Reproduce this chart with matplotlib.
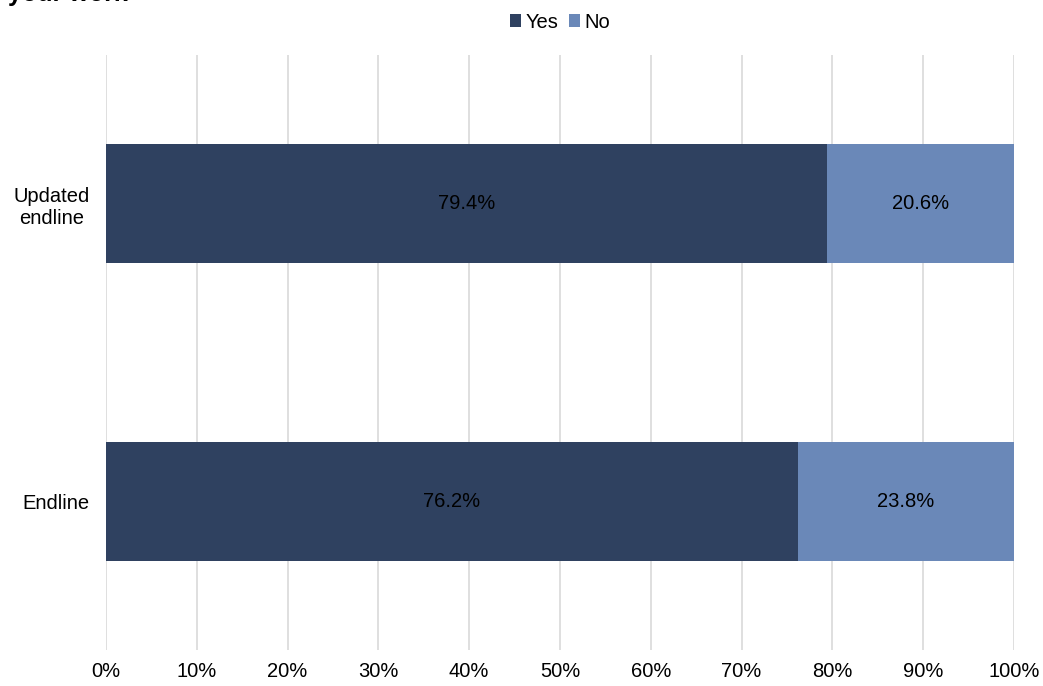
import matplotlib
matplotlib.use('Agg')
import matplotlib.pyplot as plt
from matplotlib.ticker import FuncFormatter

plt.rcParams['font.family'] = ['Liberation Sans', 'DejaVu Sans']

categories = ['Endline', 'Updated\nendline']
yes_values = [76.2, 79.4]
no_values = [23.8, 20.6]
yes_color = '#2F4160'
no_color = '#6A88B8'

fig = plt.figure(figsize=(10.43, 6.86), dpi=100)
ax = fig.add_axes([0.1016, 0.0525, 0.8706, 0.8673])

y = range(len(categories))
ax.barh(y, yes_values, height=0.4, color=yes_color, label='Yes', zorder=2)
ax.barh(y, no_values, left=yes_values, height=0.4, color=no_color, label='No', zorder=2)

for i in y:
    ax.text(yes_values[i] / 2, i, f'{yes_values[i]:.1f}%', ha='center', va='center',
            fontsize=14.5, color='black', zorder=3)
    ax.text(yes_values[i] + no_values[i] / 2, i, f'{no_values[i]:.1f}%', ha='center',
            va='center', fontsize=14.5, color='black', zorder=3)

ax.set_xlim(0, 100)
ax.set_ylim(-0.5, 1.5)
ax.set_xticks(range(0, 101, 10))
ax.xaxis.set_major_formatter(FuncFormatter(lambda v, p: f'{v:.0f}%'))
ax.set_yticks(list(y))
ax.set_yticklabels(categories, multialignment='center')
ax.tick_params(axis='both', length=0, labelsize=14.5, colors='black')
ax.tick_params(axis='x', pad=9)
ax.tick_params(axis='y', pad=12)
ax.grid(axis='x', color='#D9D9D9', linewidth=1.2, zorder=0)
ax.set_axisbelow(True)
for s in ax.spines.values():
    s.set_visible(False)

fig.legend(loc='upper center', bbox_to_anchor=(0.537, 1.008), ncol=2, frameon=False,
           fontsize=14.5, handlelength=0.55, handleheight=0.55, handletextpad=0.25,
           columnspacing=0.5)

# heading text running off the top edge
fig.text(0.0077, 0.9985, 'your work', fontsize=18, fontweight='bold', va='baseline')

fig.savefig('out.png', dpi=100)
